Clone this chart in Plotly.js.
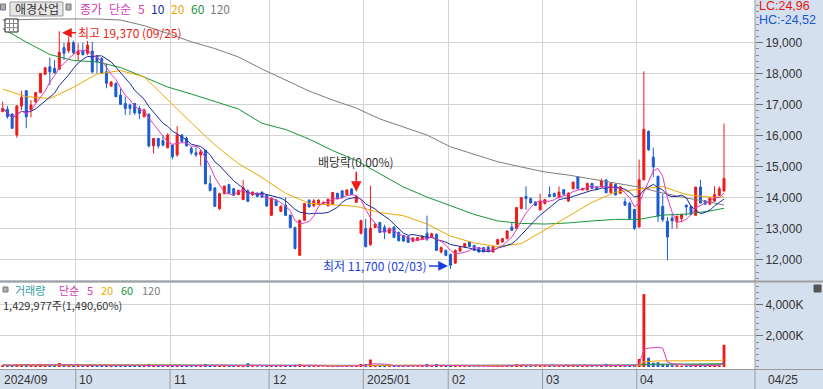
<!DOCTYPE html>
<html><head><meta charset="utf-8">
<script src="https://cdn.plot.ly/plotly-3.0.1.min.js"></script>
<style>html,body{margin:0;padding:0;background:#d5e0ee;}#chart{width:823px;height:389px;}</style>
</head><body><div id="chart"></div>
<script>
// ---- trading days (categories) ----
const sepDays=[4,5,6,9,10,11,12,13,19,20,23,24,25,26,27,30];
const octDays=[2,4,7,8,10,11,14,15,16,17,18,21,22,23,24,25,28,29,30,31];
const novDays=[1,4,5,6,7,8,11,12,13,14,15,18,19,20,21,22,25,26,27,28,29];
const decDays=[2,3,4,5,6,9,10,11,12,13,16,17,18,19,20,23,24,26,27,30];
const janDays=[2,3,6,7,8,9,10,13,14,15,16,17,20,21,22,23,24,31];
const febDays=[3,4,5,6,7,10,11,12,13,14,17,18,19,20,21,24,25,26,27,28];
const marDays=[4,5,6,7,10,11,12,13,14,17,18,19,20,21,24,25,26,27,28,31];
const aprDays=[1,2,3,4,7,8,9,10,11,14,15,16,17,18,21,22,23,24,25];
const monthKeys=['2024-09','2024-10','2024-11','2024-12','2025-01','2025-02','2025-03','2025-04'];
const monthLabels=['2024/09','10','11','12','2025/01','02','03','04'];

// ---- OHLC ----
const openP=[16780,16850,16700,16020,16960,17450,16830,17100,17390,17980,
18220,18170,18140,18840,18740,19000,18620,18740,18660,18730,
18570,18490,18060,17600,17690,17310,17040,16990,17040,16880,
16610,16690,15670,15910,15840,15610,15700,15380,16020,15910,
15590,15450,15380,15530,14450,14320,13650,14130,14420,14290,
14100,13940,14220,14090,14150,14180,14080,13430,13920,13560,
13760,13430,13040,12140,13270,13920,13740,13780,13800,13740,
13790,14140,14220,14100,14280,13850,12850,13000,12480,13040,
13200,13050,12860,13050,12880,12780,12740,12590,12620,12650,
12850,12730,12820,12250,12300,12170,11890,12280,12410,12570,
12460,12390,12390,12410,12250,12500,12570,12680,13050,13000,
13650,14040,13970,13860,13610,13810,14100,14140,14000,14260,
13890,14290,14670,14250,14250,14460,14350,14350,14570,14160,
14430,14140,13870,13820,13620,13055,14580,16140,15310,14690,
13720,13240,13345,13215,13325,13760,13720,13430,14345,13900,
13790,13890,14080,14215];
const highP=[17100,16960,16720,16990,17450,17470,17150,17390,18010,18220,
18520,18440,19370,19000,19190,19060,18980,19000,19060,19030,
18600,18530,18330,17760,17710,17520,17260,17040,17040,16960,
16880,16720,15910,15910,16020,16080,15700,16310,16050,15970,
15650,15660,15540,15540,14720,14320,14160,14400,14450,14310,
14260,14570,14270,14200,14170,14200,14100,14000,13950,13750,
14010,13460,13060,13290,13830,13950,13960,13950,13880,13970,
14180,14160,14240,14260,14300,14060,13290,13320,14390,13180,
13220,13130,13040,13080,12910,12800,12760,12720,12730,12790,
13420,12870,12840,12430,12330,12200,12330,12420,12540,12600,
12480,12410,12410,12430,12450,12670,12700,12940,13215,13700,
14010,14365,14000,13880,14130,13960,14365,14160,14365,14280,
14170,14520,14690,14320,14480,14480,14370,14620,14590,14480,
14450,14370,13980,13870,13640,15230,18075,16170,15610,14710,
14130,13380,13485,13420,13480,13780,13740,14345,14580,13920,
14020,14370,14365,16390];
const lowP=[16750,16550,16215,15935,16830,16240,16590,17045,17370,17960,
17630,18010,18120,18440,18660,18600,18420,18580,18600,18010,
18010,18000,17530,17580,17240,16990,16670,16670,16670,16530,
16610,15620,15430,15590,15650,15590,15240,15320,15810,15650,
15380,15320,15030,14430,14200,13700,13600,14100,14120,14060,
14080,13920,13860,14060,14020,13990,13710,13410,13720,13540,
13410,13010,12330,12120,13250,13680,13690,13760,13780,13720,
13770,13940,13990,14080,14080,13830,12820,12400,12450,13020,
12860,12660,12840,12700,12590,12580,12540,12570,12600,12630,
12600,12700,12280,12200,12110,11700,11860,12260,12390,12410,
12280,12230,12230,12240,12230,12480,12550,12660,12930,12980,
13620,13610,13810,13730,13590,13780,14020,14020,13980,14090,
13870,14270,14270,14230,14230,14280,14250,14330,14140,14140,
14070,14120,13740,13290,12960,13040,14560,15510,14670,13215,
13215,11980,13000,13000,13220,13420,13440,13410,13810,13770,
13760,13870,14060,14200];
const closeP=[16880,16610,16240,16960,17240,16610,16990,17390,18010,18190,
18060,18030,18690,18660,19000,18680,18710,18620,18920,18060,
18390,18010,17690,17730,17260,17010,16880,16880,16740,16720,
16830,15670,15910,15670,15700,16020,15320,16020,15810,15670,
15450,15380,15480,14450,14240,13720,14130,14370,14150,14080,
14240,14320,13880,14180,14040,14020,13730,13970,13750,13720,
13430,13040,12360,13270,13810,13700,13900,13920,13850,13950,
14170,13960,14010,14250,14100,14030,13260,12420,13010,13150,
12880,12900,13010,12720,12610,12600,12560,12700,12710,12760,
12660,12840,12300,12390,12140,11820,12300,12390,12520,12430,
12300,12250,12260,12260,12430,12650,12680,12925,12950,13680,
14000,13970,13830,13750,13890,13935,14040,14040,14180,14110,
14150,14500,14290,14300,14460,14300,14270,14540,14160,14460,
14090,14350,13760,13330,13010,14580,16205,15550,14990,13400,
13290,12730,13250,13400,13460,13700,13460,14345,13830,13790,
13990,14100,14290,14620];
const volume=[120000,90000,130000,180000,140000,170000,90000,80000,200000,110000,
150000,100000,260000,150000,120000,110000,90000,80000,100000,160000,
90000,110000,120000,70000,110000,100000,90000,70000,80000,80000,
70000,180000,90000,80000,60000,90000,100000,140000,70000,70000,
60000,60000,80000,190000,100000,130000,110000,80000,70000,60000,
60000,130000,240000,60000,50000,50000,80000,70000,90000,60000,
80000,90000,150000,170000,110000,70000,60000,50000,40000,50000,
80000,60000,50000,60000,60000,60000,200000,190000,480000,90000,
80000,70000,60000,80000,70000,60000,60000,50000,50000,60000,
200000,60000,190000,70000,80000,130000,120000,60000,60000,60000,
50000,50000,50000,50000,60000,80000,60000,90000,110000,170000,
150000,130000,80000,60000,110000,70000,80000,60000,80000,60000,
70000,110000,120000,60000,70000,60000,50000,90000,200000,80000,
90000,70000,90000,110000,150000,520000,4700000,600000,280000,300000,
200000,190000,110000,110000,80000,90000,80000,150000,130000,70000,
70000,90000,95933,1429977];

// ---- moving averages (every 5th session) ----
const maIdx=[0,5,10,15,20,25,30,35,40,45,50,55,60,65,70,75,80,85,90,95,100,105,110,115,120,125,130,135,140,145,150,153];
const ma20Read=[17500,17260,17200,17560,17990,18100,17900,17150,16420,15700,15100,14650,14140,13820,13760,13720,13520,13420,13150,12760,12540,12420,12520,12950,13400,13850,14180,14270,14360,14100,14020,14020];
const ma60Read=[19460,19020,18620,18425,18380,18200,17890,17570,17345,17090,16860,16400,16200,15890,15520,15200,14770,14345,14020,13730,13460,13250,13170,13150,13185,13250,13300,13300,13440,13470,13570,13660];
const ma120Read=[19730,19750,19765,19765,19765,19730,19550,19300,19030,18810,18540,18150,17800,17440,17150,16890,16540,16280,16020,15640,15410,15160,14990,14830,14730,14600,14470,14340,14150,13990,13860,13760];

const priceTicks=[12000,13000,14000,15000,16000,17000,18000,19000];
const volTicks=[2000000,4000000];
const volTickText=['2,000K','4,000K'];

// ---- derived ----
const allDays=[sepDays,octDays,novDays,decDays,janDays,febDays,marDays,aprDays];
const dates=[]; const monthStart=[];
allDays.forEach((arr,m)=>{monthStart.push(dates.length);arr.forEach(d=>dates.push(monthKeys[m]+'-'+String(d).padStart(2,'0')));});
const xi=dates.map((d,i)=>i);
function sma(a,n){return a.map((_,i)=>{const s=Math.max(0,i-n+1);let t=0;for(let k=s;k<=i;k++)t+=a[k];return t/(i-s+1);});}
const RED='#ee1a17', BLUE='#1b5bd2';
const C5='#e03cbe', C10='#1a2a9c', C20='#f0a800', C60='#17963a', C120='#7d7d7d';
const volColors=closeP.map((c,i)=>c>=openP[i]?RED:BLUE);

const W=755, H=369;
const px=x=>x/W, py=y=>1-y/H;

const line=(x,y,c,ax)=>({type:'scatter',mode:'lines',x:x,y:y,line:{color:c,width:1},xaxis:'x',yaxis:ax||'y',hoverinfo:'skip'});

const traces=[
 {type:'candlestick',x:xi,open:openP,high:highP,low:lowP,close:closeP,
  increasing:{line:{color:RED,width:1},fillcolor:RED},
  decreasing:{line:{color:BLUE,width:1},fillcolor:BLUE},
  whiskerwidth:0,xaxis:'x',yaxis:'y',hoverinfo:'skip'},
 line(maIdx,ma120Read,C120),
 line(maIdx,ma60Read,C60),
 line(maIdx,ma20Read,C20),
 line(xi,sma(closeP,10),C10),
 line(xi,sma(closeP,5),C5),
 {type:'bar',x:xi,y:volume,marker:{color:volColors,line:{width:0}},width:0.6,xaxis:'x',yaxis:'y2',hoverinfo:'skip'},
 line(xi,sma(volume,120),C120,'y2'),
 line(xi,sma(volume,60),C60,'y2'),
 line(xi,sma(volume,20),C20,'y2'),
 line(xi,sma(volume,5),C5,'y2')
];

const gridX=monthStart.slice(1).map(i=>i-0.5);
const KR='"Noto Sans CJK KR", "Noto Sans", sans-serif';
const LAT='"Liberation Sans", Arial, sans-serif';

const ann=[];
function txt(x,y,t,c,opts){ann.push(Object.assign({xref:'paper',yref:'paper',x:px(x),y:py(y),text:t,showarrow:false,xanchor:'left',yanchor:'middle',borderpad:0,font:{family:KR,size:12,color:c}},opts||{}));}
// top legend
txt(36.5,8.5,'애경산업','#333',{xanchor:'center'});
txt(79,8.5,'종가','#d23cb4'); txt(108,8.5,'단순','#d23cb4'); txt(137,8.5,'5','#d23cb4');
txt(150,8.5,'10',C10); txt(170,8.5,'20',C20); txt(190,8.5,'60',C60); txt(209,8.5,'120',C120);
// volume legend
const vf=c=>({font:{family:KR,size:11,color:c}});
txt(14,289.5,'거래량','#2f9e9e',vf('#2f9e9e')); txt(58,289.5,'단순','#d23cb4',vf('#d23cb4')); txt(86,289.5,'5','#d23cb4',vf('#d23cb4'));
txt(100,289.5,'20',C20,vf(C20)); txt(120,289.5,'60',C60,vf(C60)); txt(141,289.5,'120',C120,vf(C120));
txt(2,304.5,'1,429,977주(1,490,60%)','#333',vf('#333'));
// LC / HC
txt(758,6,'LC:24,96','#e8150f',{font:{family:LAT,size:12.5,color:'#e8150f'}});
txt(758,19.5,'HC:-24,52','#1656d0',{font:{family:LAT,size:12.5,color:'#1656d0'}});
// x labels
monthStart.forEach((s,k)=>ann.push({xref:'x',yref:'paper',x:s-0.5,y:py(380),text:monthLabels[k],showarrow:false,xanchor:'left',yanchor:'middle',xshift:1.5,font:{family:LAT,size:12,color:'#333'}}));
txt(767,380,'04/25','#333',{font:{family:LAT,size:12,color:'#333'}});
// markers
ann.push({xref:'x',yref:'y',x:12.58,y:19320,text:'최고 19,370 (09/25)',showarrow:true,ax:14,ay:0,xanchor:'left',yanchor:'middle',arrowcolor:'#ee1a17',arrowhead:2,arrowsize:1.3,arrowwidth:1.5,font:{family:KR,size:12,color:'#ee1a17'}});
ann.push({xref:'x',yref:'y',x:75,y:14193,text:'배당락(0.00%)',showarrow:true,ax:0,ay:-20,xanchor:'center',yanchor:'bottom',arrowcolor:'#ee1a17',arrowhead:2,arrowsize:1.3,arrowwidth:1.6,font:{family:KR,size:12,color:'#333'}});
ann.push({xref:'x',yref:'y',x:94.45,y:11800,text:'최저 11,700 (02/03)',showarrow:true,ax:-19,ay:0,xanchor:'right',yanchor:'middle',arrowcolor:'#1a3fe0',arrowhead:2,arrowsize:1.3,arrowwidth:1.5,font:{family:KR,size:12,color:'#1a3fe0'}});

const shapes=[];
const rect=(x0,y0,x1,y1,fill,lc)=>shapes.push({type:'rect',xref:'paper',yref:'paper',x0:px(x0),x1:px(x1),y0:py(y1),y1:py(y0),fillcolor:fill,line:{color:lc,width:1},layer:'above'});
const hl=(x0,x1,y,c,w)=>shapes.push({type:'line',xref:'paper',yref:'paper',x0:px(x0),x1:px(x1),y0:py(y),y1:py(y),line:{color:c,width:w||1},layer:'above'});
const vl=(x,y0,y1,c,w)=>shapes.push({type:'line',xref:'paper',yref:'paper',x0:px(x),x1:px(x),y0:py(y0),y1:py(y1),line:{color:c,width:w||1},layer:'above'});
rect(0.5,4,5.5,10,'#b0b0b0','#777');
rect(10,2,63,16,'#e6e6e6','#999');
rect(66,4,71,10,'#b0b0b0','#777');
// grid icon
rect(5,19,18,32,'#ffffff','#222');
vl(9.5,19,32,'#888'); vl(13.5,19,32,'#888'); hl(5,18,23.5,'#888'); hl(5,18,27.7,'#888');
// volume legend square & corner icon
rect(3,287,8,292,'#b0b0b0','#777');
rect(814,285,821,292,'#555','#555');
// frame lines
hl(0,823,281.5,'#a0a0a0',2);
hl(0,823,369.5,'#9a9a9a',1);
vl(755,0,389,'#9a9a9a',1);
gridX.forEach(g=>shapes.push({type:'line',xref:'x',yref:'paper',x0:g,x1:g,y0:py(389),y1:py(370),line:{color:'#9a9a9a',width:1},layer:'above'}));

const layout={
 width:823,height:389,margin:{l:0,r:68,t:0,b:20,pad:0},
 paper_bgcolor:'#d5e0ee',plot_bgcolor:'#ffffff',showlegend:false,hovermode:false,
 font:{family:KR,size:12,color:'#333'},
 boxgap:0.4,
 xaxis:{type:'linear',range:[-0.5727,159.575],anchor:'y2',tickmode:'array',tickvals:gridX,showticklabels:false,ticks:'',
   showgrid:true,gridcolor:'#d3d3d3',gridwidth:1,zeroline:false,showline:false,rangeslider:{visible:false},fixedrange:true},
 yaxis:{domain:[0.2412,1],range:[11345,20377],side:'right',anchor:'x',tickmode:'array',tickvals:priceTicks,tickformat:',d',
   ticks:'outside',ticklen:7,tickcolor:'#707070',tickfont:{family:LAT,size:12,color:'#333'},
   showgrid:true,gridcolor:'#d3d3d3',zeroline:false,showline:false,
   minor:{tickmode:'linear',tick0:0,dtick:200,ticks:'outside',ticklen:3,tickcolor:'#8a8a8a',showgrid:false},fixedrange:true},
 yaxis2:{domain:[0,0.2331],range:[-129000,5419000],side:'right',anchor:'x',tickmode:'array',tickvals:volTicks,ticktext:volTickText,
   ticks:'outside',ticklen:7,tickcolor:'#707070',tickfont:{family:LAT,size:12,color:'#333'},
   showgrid:true,gridcolor:'#d3d3d3',zeroline:false,showline:false,
   minor:{tickmode:'linear',tick0:0,dtick:400000,ticks:'outside',ticklen:3,tickcolor:'#8a8a8a',showgrid:false},fixedrange:true},
 annotations:ann,shapes:shapes
};
Plotly.newPlot('chart',traces,layout,{staticPlot:true,displayModeBar:false});
</script></body></html>
